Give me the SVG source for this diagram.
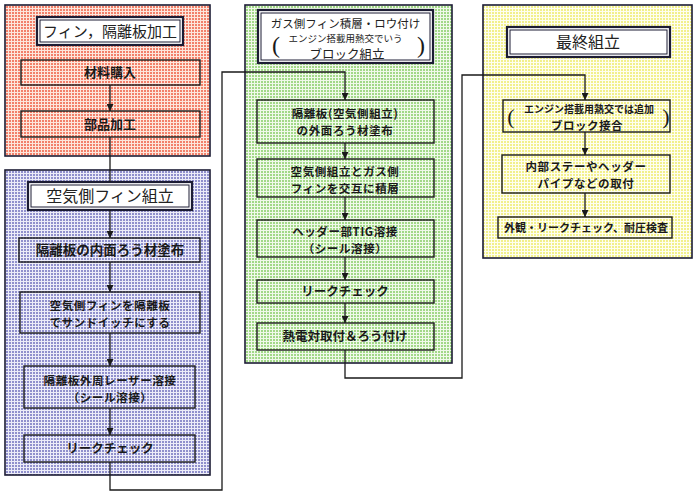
<svg xmlns="http://www.w3.org/2000/svg" width="700" height="498" viewBox="0 0 700 498">
<style>
.panel{stroke:#1c1c34;stroke-width:1.6}
.box{stroke:#1a1a1a;stroke-width:1.4}
.tout{fill:#fff;stroke:#1c1c34;stroke-width:2.2}
.tin{fill:none;stroke:#1c1c34;stroke-width:1}
.conn{fill:none;stroke:#1a1a1a;stroke-width:1.3}
text{font-family:"Noto Sans CJK JP","Liberation Serif",sans-serif;text-anchor:middle;fill:#1a1a1a}
.t{font-weight:400;fill:#222}
.b{font-weight:700}
.s{font-size:11.5px;letter-spacing:0.6px}
.p{font-family:"Liberation Serif",serif;font-weight:400}
</style>
<defs>
<pattern id="pr" width="3" height="3" patternUnits="userSpaceOnUse"><rect width="3" height="3" fill="#fde6dc"/><rect width="2" height="2" fill="#f2806a"/></pattern>
<pattern id="pb" width="3" height="3" patternUnits="userSpaceOnUse"><rect width="3" height="3" fill="#ececf8"/><rect width="2" height="2" fill="#9090cc"/></pattern>
<pattern id="pg" width="3" height="3" patternUnits="userSpaceOnUse"><rect width="3" height="3" fill="#f0f9ea"/><rect width="2" height="2" fill="#a2d888"/></pattern>
<pattern id="py" width="3" height="3" patternUnits="userSpaceOnUse"><rect width="3" height="3" fill="#fefef0"/><rect width="2" height="2" fill="#f2f08c"/></pattern>
<marker id="ah" viewBox="0 0 8 8" refX="8" refY="4" markerWidth="7" markerHeight="7" orient="auto" markerUnits="userSpaceOnUse"><path d="M0,0 L8,4 L0,8 z" fill="#1a1a1a"/></marker>
</defs>

<g id="panel-fin">
<rect class="panel" x="5" y="5" width="205" height="151" fill="url(#pr)"/>
<rect class="tout" x="37" y="17" width="146" height="28"/>
<rect class="tin" x="40" y="20" width="140" height="22"/>
<text class="t" x="110" y="36.5" font-size="15">フィン，隔離板加工</text>
</g>
<g id="n-zairyo">
<rect class="box" x="21" y="60" width="179" height="25" fill="url(#pr)"/>
<text class="b" x="110" y="77" font-size="13">材料購入</text>
</g>
<g id="n-buhin">
<rect class="box" x="21" y="111" width="179" height="26" fill="url(#pr)"/>
<text class="b" x="110" y="128.5" font-size="13">部品加工</text>
</g>

<g id="panel-air">
<rect class="panel" x="5" y="170" width="205" height="305" fill="url(#pb)"/>
<rect class="tout" x="28" y="182" width="164" height="28"/>
<rect class="tin" x="31" y="185" width="158" height="22"/>
<text class="t" x="110" y="201.5" font-size="16">空気側フィン組立</text>
</g>
<g id="n-naimen">
<rect class="box" x="19" y="238" width="181" height="24" fill="url(#pb)"/>
<text class="b" x="110" y="254.5" font-size="13.5">隔離板の内面ろう材塗布</text>
</g>
<g id="n-sandwich">
<rect class="box" x="20" y="292" width="180" height="41" fill="url(#pb)"/>
<text class="b s" x="110" y="309.5">空気側フィンを隔離板</text>
<text class="b s" x="110" y="326.5">でサンドイッチにする</text>
</g>
<g id="n-laser">
<rect class="box" x="24" y="366" width="171" height="42" fill="url(#pb)"/>
<text class="b s" x="110" y="385">隔離板外周レーザー溶接</text>
<text class="b s" x="110" y="402">（シール溶接）</text>
</g>
<g id="n-leak1">
<rect class="box" x="24" y="435" width="171" height="27" fill="url(#pb)"/>
<text class="b" x="110" y="453" font-size="12.5">リークチェック</text>
</g>

<g id="panel-gas">
<rect class="panel" x="245" y="5" width="207" height="358" fill="url(#pg)"/>
<rect class="tout" x="258" y="10" width="175" height="53"/>
<rect class="tin" x="261" y="13" width="169" height="47"/>
<text class="t" x="345.5" y="27.5" font-size="11.5">ガス側フィン積層・ロウ付け</text>
<text class="t" x="345.5" y="41.5" font-size="9.5">エンジン搭載用熱交でいう</text>
<text class="t" x="347" y="58.5" font-size="12.5">ブロック組立</text>
<text class="p" x="276" y="53" font-size="24">(</text>
<text class="p" x="421" y="53" font-size="24">)</text>
</g>
<g id="n-gaimen">
<rect class="box" x="257" y="100" width="177" height="43" fill="url(#pg)"/>
<text class="b s" x="345" y="118">隔離板(空気側組立)</text>
<text class="b s" x="345" y="135">の外面ろう材塗布</text>
</g>
<g id="n-sekiso">
<rect class="box" x="257" y="159" width="177" height="38" fill="url(#pg)"/>
<text class="b s" x="345" y="175.5">空気側組立とガス側</text>
<text class="b s" x="345" y="192.5">フィンを交互に積層</text>
</g>
<g id="n-tig">
<rect class="box" x="257" y="220" width="177" height="37" fill="url(#pg)"/>
<text class="b s" x="345" y="236">ヘッダー部TIG溶接</text>
<text class="b s" x="345" y="253">（シール溶接）</text>
</g>
<g id="n-leak2">
<rect class="box" x="257" y="280" width="177" height="23" fill="url(#pg)"/>
<text class="b" x="345" y="296" font-size="12.5">リークチェック</text>
</g>
<g id="n-netsuden">
<rect class="box" x="257" y="323" width="177" height="27" fill="url(#pg)"/>
<text class="b" x="345" y="341" font-size="12.5">熱電対取付＆ろう付け</text>
</g>

<g id="panel-final">
<rect class="panel" x="483" y="5" width="209" height="253" fill="url(#py)"/>
<rect class="tout" x="507" y="27" width="163" height="30"/>
<rect class="tin" x="510" y="30" width="157" height="24"/>
<text class="t" x="588" y="48" font-size="16">最終組立</text>
</g>
<g id="n-block">
<rect class="box" x="503" y="100" width="167" height="32" fill="url(#py)"/>
<text class="b" x="589" y="113" font-size="10">エンジン搭載用熱交では追加</text>
<text class="b" x="587" y="129.5" font-size="11.5" letter-spacing="0.5">ブロック接合</text>
<text class="p" x="511" y="124" font-size="22">(</text>
<text class="p" x="666" y="124" font-size="22">)</text>
</g>
<g id="n-stay">
<rect class="box" x="502" y="155" width="168" height="38" fill="url(#py)"/>
<text class="b s" x="586" y="171">内部ステーやヘッダー</text>
<text class="b s" x="586" y="188">パイプなどの取付</text>
</g>
<g id="n-kensa">
<rect class="box" x="498" y="217" width="174" height="21" fill="url(#py)"/>
<text class="b" x="586" y="231.5" font-size="11">外観・リークチェック、耐圧検査</text>
</g>

<g id="connectors">
<path class="conn" d="M110,85 V111" marker-end="url(#ah)"/>
<path class="conn" d="M110,137 V182"/>
<path class="conn" d="M110,210 V238" marker-end="url(#ah)"/>
<path class="conn" d="M110,262 V292" marker-end="url(#ah)"/>
<path class="conn" d="M110,333 V366" marker-end="url(#ah)"/>
<path class="conn" d="M110,408 V435" marker-end="url(#ah)"/>
<path class="conn" d="M110,462 V490 H222 V72 H345 V100" marker-end="url(#ah)"/>
<path class="conn" d="M345,143 V159" marker-end="url(#ah)"/>
<path class="conn" d="M345,197 V220" marker-end="url(#ah)"/>
<path class="conn" d="M345,257 V280" marker-end="url(#ah)"/>
<path class="conn" d="M345,303 V323" marker-end="url(#ah)"/>
<path class="conn" d="M345,350 V378 H462 V75 H585 V100" marker-end="url(#ah)"/>
<path class="conn" d="M585,132 V155" marker-end="url(#ah)"/>
<path class="conn" d="M585,193 V217" marker-end="url(#ah)"/>
</g>
</svg>
